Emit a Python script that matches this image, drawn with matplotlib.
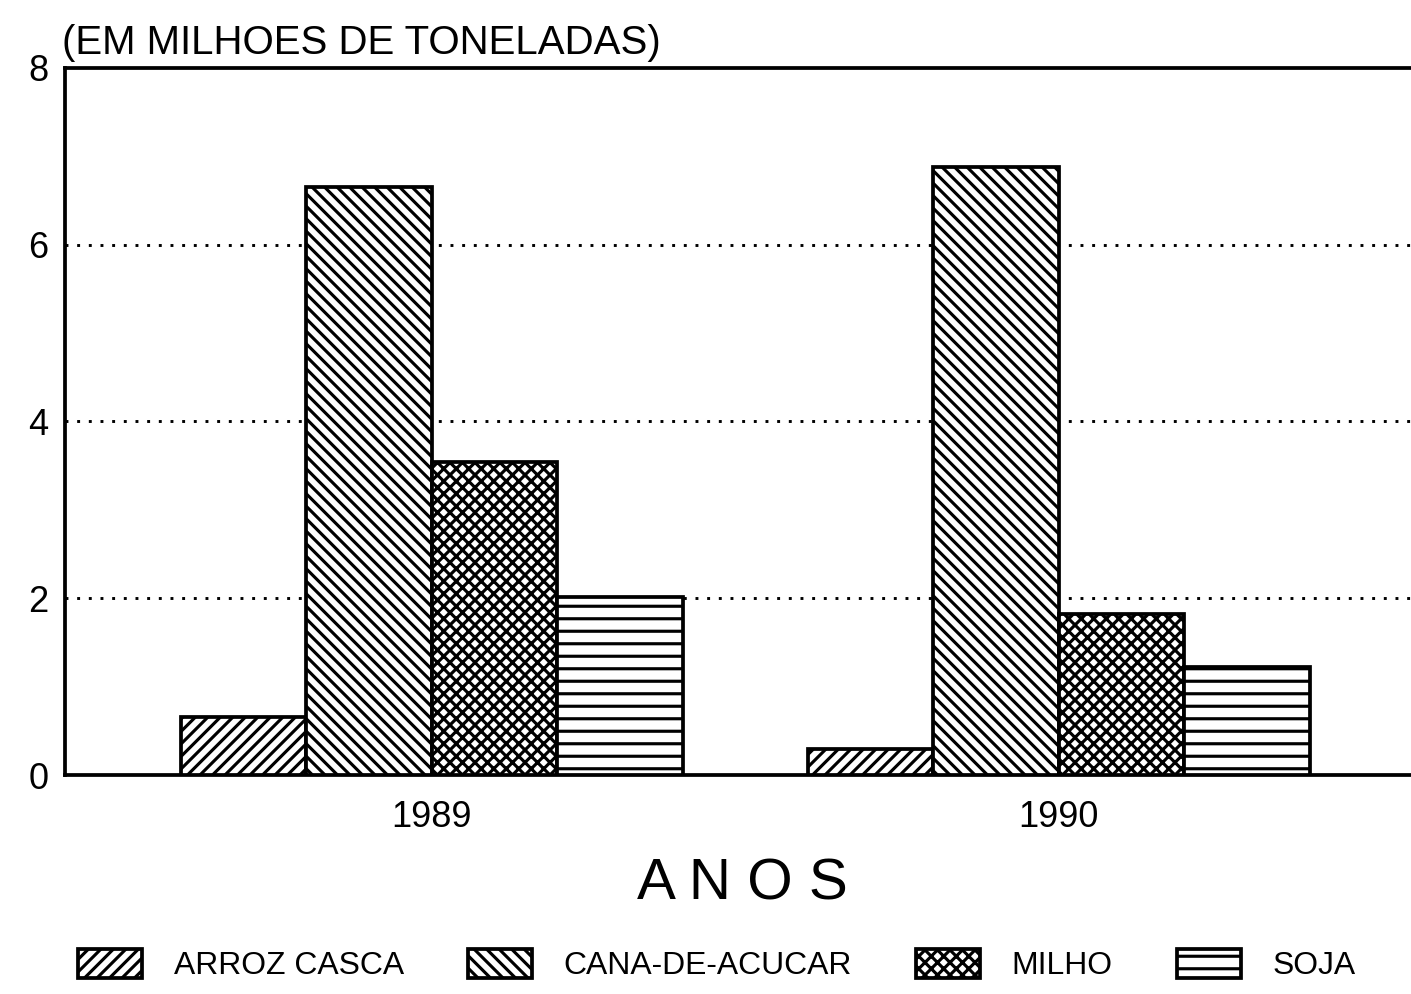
import numpy as np
import matplotlib
matplotlib.use("Agg")
import matplotlib.pyplot as plt

# Dados (em milhoes de toneladas)
anos = ["1989", "1990"]
culturas = ["ARROZ CASCA", "CANA-DE-ACUCAR", "MILHO", "SOJA"]
arroz = [0.66, 0.30]
cana = [6.65, 6.88]
milho = [3.54, 1.82]
soja = [2.02, 1.22]
hachuras = ["////", "\\\\\\\\", "xxxx", "--"]

DPI = 150
S = 100 / DPI  # tamanhos pensados em 100 dpi

plt.rcParams["font.family"] = ["Liberation Sans", "DejaVu Sans"]
plt.rcParams["hatch.linewidth"] = 1.5

fig = plt.figure(figsize=(1411 / DPI, 994 / DPI), dpi=DPI)
ax = fig.add_axes([0.046, 0.22, 0.96, 0.712])

x = np.arange(len(anos))
largura = 0.2
series = [arroz, cana, milho, soja]
barras = []
for i, valores in enumerate(series):
    b = ax.bar(x + (i - 1.5) * largura, valores, largura, color="white",
               edgecolor="black", linewidth=1.8, hatch=hachuras[i],
               label=culturas[i], zorder=3)
    barras.append(b)

ax.set_xlim(-0.585, 1.575)
ax.set_ylim(0, 8)
ax.set_yticks([0, 2, 4, 6, 8])
ax.set_xticks(x)
ax.set_xticklabels(anos)
ax.tick_params(axis="both", length=0, labelsize=26 * S)
ax.tick_params(axis="y", pad=12 * S)
ax.tick_params(axis="x", pad=18 * S)

for v in [2, 4, 6]:
    ax.axhline(v, color="black", linestyle=(0, (1, 3)), linewidth=1.4, zorder=1)

for lado in ["left", "top", "bottom"]:
    ax.spines[lado].set_linewidth(1.8)
ax.spines["right"].set_visible(False)

ax.set_xlabel("A N O S", fontsize=42 * S, labelpad=16 * S)
fig.text(0.044, 0.957, "(EM MILHOES DE TONELADAS)", fontsize=29 * S,
         ha="left", va="center")

fig.legend(handles=barras, labels=culturas, loc="lower center", ncol=4,
           bbox_to_anchor=(0.508, -0.016), frameon=False, fontsize=23 * S,
           handlelength=2.0, handleheight=1.0, columnspacing=2.0,
           handletextpad=1.0)

fig.savefig("out.png", dpi=DPI)
